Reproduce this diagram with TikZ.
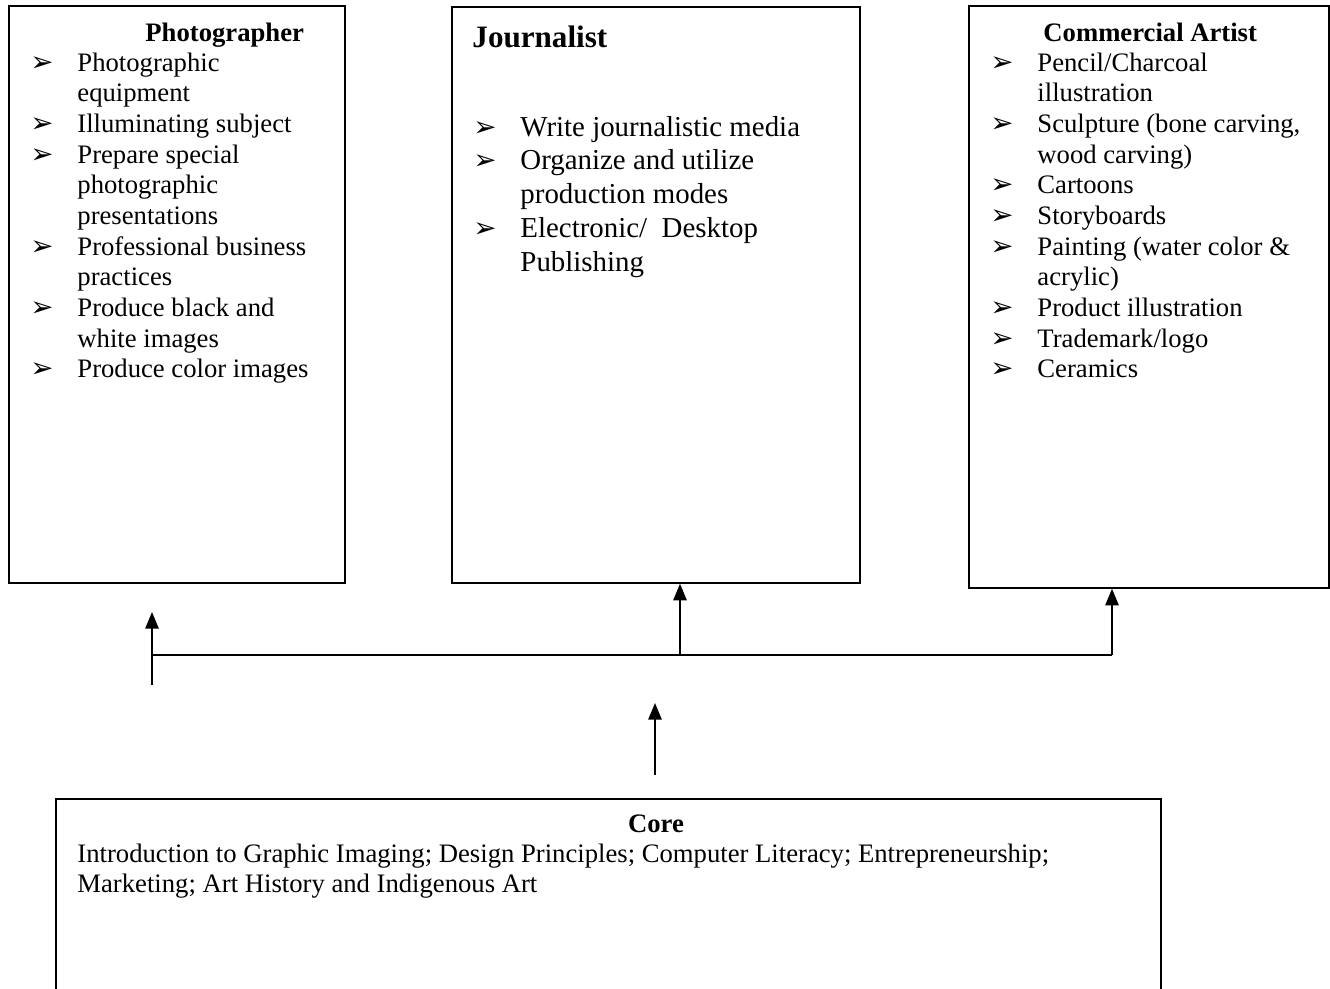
\documentclass[tikz,border=0pt]{standalone}
\usepackage{fontspec}
\setmainfont{Liberation Serif}
\newfontfamily\symfont{DejaVu Sans}
\usetikzlibrary{arrows.meta,positioning}

\newcommand{\bul}{{\symfont\fontsize{12.5}{12.5}\selectfont ➢}}
\newcommand{\itemlist}[1]{\begin{tabular}[t]{@{}p{21.15pt}@{}l@{}}#1\end{tabular}}

\begin{document}
\begin{tikzpicture}[x=0.45pt,y=-0.45pt,>={Triangle[length=7.5pt,width=6pt]}]
    \tikzstyle{box}=[rectangle,draw=black,line width=0.75pt,anchor=north west,
    inner sep=0pt]
    \tikzstyle{head}=[font=\fontsize{12}{13.8}\selectfont\bfseries,anchor=base west,
    inner sep=0pt]
    \tikzstyle{items}=[font=\fontsize{12}{13.8}\selectfont,anchor=base west,inner sep=0pt]
    \tikzstyle{link}=[line width=0.85pt]

    \useasboundingbox (0,0) rectangle (1330,988);
    \clip (0,0) rectangle (1330,988);

    % the three boxes on top
    \node[box,minimum width=336*0.45pt,minimum height=577*0.45pt](photo_box) at (8,5){};
    \node[box,minimum width=408*0.45pt,minimum height=576*0.45pt](jour_box) at (451,6){};
    \node[box,minimum width=360*0.45pt,minimum height=582*0.45pt](comm_box) at (968,5){};

    \node[head](photo_head) at (145,41){Photographer};
    \node[items](photo_list) at (30,71){\itemlist{
      \bul & Photographic \\
           & equipment \\
      \bul & Illuminating subject \\
      \bul & Prepare special \\
           & photographic \\
           & presentations \\
      \bul & Professional business \\
           & practices \\
      \bul & Produce black and \\
           & white images \\
      \bul & Produce color images}};

    \node[head,font=\fontsize{14}{16}\selectfont\bfseries](jour_head) at (472,47){Journalist};
    \node[items,font=\fontsize{13}{15.2}\selectfont](jour_list) at (473,136){\itemlist{
      \bul & Write journalistic media \\
      \bul & Organize and utilize \\
           & production modes \\
      \bul & Electronic/\ \ Desktop \\
           & Publishing}};

    \node[head](comm_head) at (1043,41){Commercial Artist};
    \node[items](comm_list) at (990,71){\itemlist{
      \bul & Pencil/Charcoal \\
           & illustration \\
      \bul & Sculpture (bone carving, \\
           & wood carving) \\
      \bul & Cartoons \\
      \bul & Storyboards \\
      \bul & Painting (water color \& \\
           & acrylic) \\
      \bul & Product illustration \\
      \bul & Trademark/logo \\
      \bul & Ceramics}};

    % core box, cut off at the bottom
    \node[box,minimum width=1105*0.45pt,minimum height=260*0.45pt](core_box) at (55,798){};
    \node[head,anchor=base](core_head) at (656,832){Core};
    \node[items](core_list) at (77,862){\begin{tabular}[t]{@{}l@{}}
      Introduction to Graphic Imaging; Design Principles; Computer Literacy; Entrepreneurship; \\
      Marketing; Art History and Indigenous Art\end{tabular}};

    \coordinate (bus_left) at (152,655);
    \coordinate (bus_mid) at (680,655);
    \coordinate (bus_right) at (1112,655);
    \coordinate (photo_tail) at (152,685);
    \coordinate (photo_tip) at (152,612);
    \coordinate (core_tail) at (655,775);
    \coordinate (core_tip) at (655,703);

    \draw[link] (bus_left) -- (bus_right);
    \draw[link,->] (photo_tail) -- (photo_tip);
    \draw[link,->] (bus_mid) -- (bus_mid |- jour_box.south);
    \draw[link,->] (bus_right) -- (bus_right |- comm_box.south);
    \draw[link,->] (core_tail) -- (core_tip);
  \end{tikzpicture}
\end{document}
